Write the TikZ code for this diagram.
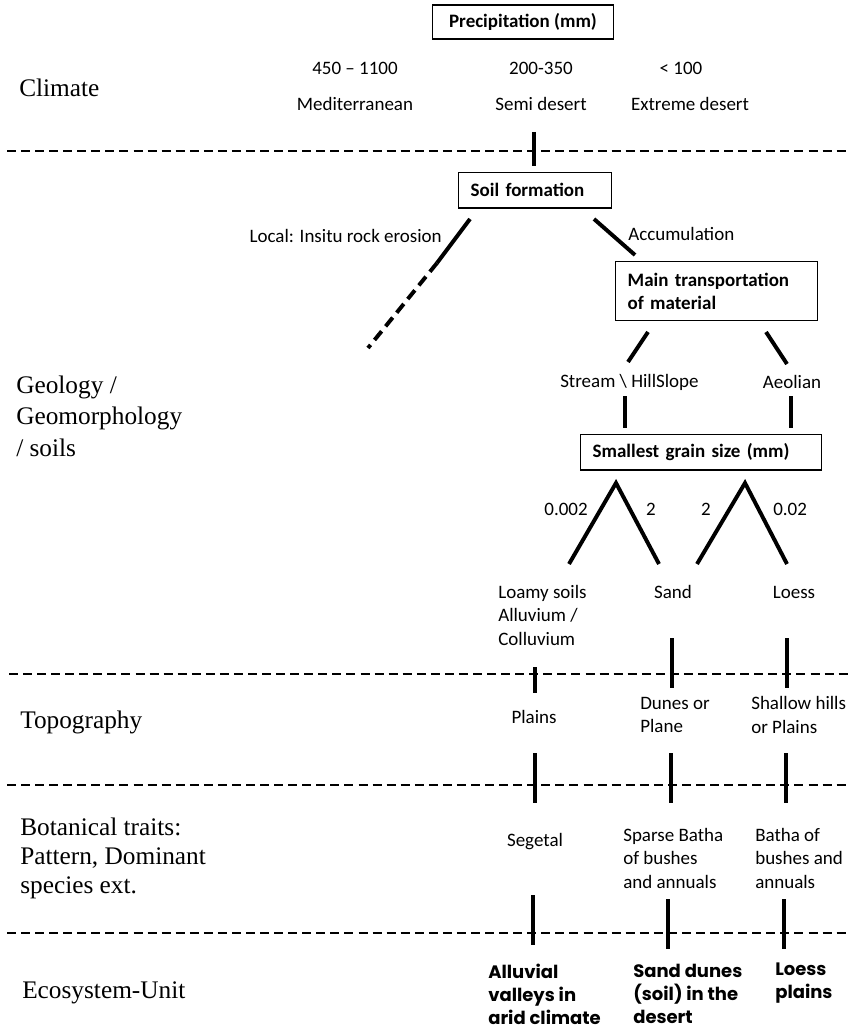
\documentclass[tikz,border=0pt]{standalone}
\usepackage{fontspec}
\setmainfont{Carlito}
\newfontfamily\rowfont{Liberation Serif}
\newfontfamily\unitfont{Poppins}
\newcommand\diagsize{\fontsize{13.5}{16.7}\selectfont}
\tikzset{
  rowlabel/.style = {anchor=west, align=left, inner sep=0pt,
                     font=\rowfont\fontsize{18}{22}\selectfont},
  txt/.style      = {inner sep=0pt, align=left, font=\diagsize},
  unit/.style     = {inner sep=0pt, align=left, anchor=west,
                     font=\unitfont\fontsize{12.8}{16.4}\selectfont\bfseries},
  box/.style      = {draw, line width=1pt, anchor=north west, align=left,
                     inner xsep=8.5pt, inner ysep=0pt, minimum height=25pt,
                     font=\diagsize\bfseries},
  link/.style     = {line width=2.8pt},
  sep/.style      = {line width=2.1pt, dash pattern=on 6.4pt off 3.6pt}
}

\begin{document}
\begin{tikzpicture}[x=0.025cm, y=-0.025cm]
\useasboundingbox (0,0) rectangle (850,1030);

% row labels
\node[rowlabel] (climate) at (19,88) {Climate};
\node[rowlabel, font=\rowfont\fontsize{18}{22.4}\selectfont] (geology) at (16,416)
  {Geology /\\Geomorphology\\/ soils};
\node[rowlabel] (topo) at (20,722) {Topography};
\node[rowlabel, font=\rowfont\fontsize{18}{20.6}\selectfont] (botany) at (20,858)
  {Botanical traits:\\Pattern, Dominant\\species ext.};
\node[rowlabel] (ecounit) at (22,993) {Ecosystem-Unit};

% separators
\coordinate (s1l) at (7,151);  \coordinate (s1r) at (850,151);
\coordinate (s2l) at (9,674);  \coordinate (s2r) at (850,674);
\coordinate (s3l) at (7,785);  \coordinate (s3r) at (850,785);
\coordinate (s4l) at (7,933);  \coordinate (s4r) at (850,933);
\draw[sep] (s1l) -- (s1r);
\draw[sep] (s2l) -- (s2r);
\draw[sep] (s3l) -- (s3r);
\draw[sep] (s4l) -- (s4r);

% climate
\node[draw, line width=1pt, minimum width=129pt, minimum height=24.2pt, inner sep=0pt,
      font=\diagsize\bfseries] (precip) at (523,22) {Precipitation (mm)};
\node[txt] (med-mm)  at (355,68)  {450 – 1100};
\node[txt] (semi-mm) at (541,68)  {200-350};
\node[txt] (ext-mm)  at (681,68)  {\textless{} 100};
\node[txt] (med)     at (355,104) {Mediterranean};
\node[txt] (semi)    at (541,104) {Semi desert};
\node[txt] (ext)     at (690,104) {Extreme desert};

% soil formation
\coordinate (t1a) at (534,132); \coordinate (t1b) at (534,166);
\draw[link] (t1a) -- (t1b);
\node[box, text width=91.5pt] (soil) at (458,172) {Soil formation};
\node[txt, anchor=east] (local) at (442,236) {Local: Insitu rock erosion};
\node[txt, anchor=west] (accum) at (628,234) {Accumulation};
\coordinate (la) at (470,219); \coordinate (lb) at (437,263); \coordinate (lc) at (368,348);
\draw[link] (la) -- (lb);
\draw[link, dash pattern=on 8pt off 4.5pt] (lb) -- (lc);
\coordinate (aa) at (594,219); \coordinate (ab) at (635,255);
\draw[link] (aa) -- (ab);

% transportation
\node[box, text width=126.6pt, minimum height=42pt] (transport) at (615,261)
  {Main transportation\\of material};
\coordinate (ta) at (648,332); \coordinate (tb) at (628,362);
\coordinate (tc) at (766,332); \coordinate (td) at (787,364);
\draw[link] (ta) -- (tb);
\draw[link] (tc) -- (td);
\node[txt, anchor=east] (stream) at (699,382) {Stream \textbackslash{} HillSlope};
\node[txt] (aeolian) at (792,382) {Aeolian};
\coordinate (sa) at (625,396); \coordinate (sb) at (625,428);
\coordinate (ea) at (791,396); \coordinate (eb) at (791,428);
\draw[link] (sa) -- (sb);
\draw[link] (ea) -- (eb);

% grain size
\node[box, text width=154.4pt] (grain) at (580,434) {Smallest grain size (mm)};
\coordinate (v1) at (616,483); \coordinate (v1l) at (569,564); \coordinate (v1r) at (659,564);
\coordinate (v2) at (745,483); \coordinate (v2l) at (697,564); \coordinate (v2r) at (787,564);
\draw[link] (v1l) -- (v1) -- (v1r);
\draw[link] (v2l) -- (v2) -- (v2r);
\node[txt, anchor=east] (g-loam) at (588,509) {0.002};
\node[txt] (g-sand1) at (651,509) {2};
\node[txt] (g-sand2) at (706,509) {2};
\node[txt, anchor=west] (g-loess) at (773,509) {0.02};

% soils
\node[txt, anchor=west] (loamy) at (498,615) {Loamy soils\\Alluvium /\\Colluvium};
\node[txt] (sand)  at (673,592) {Sand};
\node[txt] (loess) at (794,592) {Loess};
\coordinate (p1a) at (535,667); \coordinate (p1b) at (535,693);
\coordinate (p2a) at (672,638); \coordinate (p2b) at (672,688);
\coordinate (p3a) at (787,638); \coordinate (p3b) at (787,688);
\draw[link] (p1a) -- (p1b);
\draw[link] (p2a) -- (p2b);
\draw[link] (p3a) -- (p3b);

% topography
\node[txt] (plains) at (534,717) {Plains};
\node[txt, anchor=west] (dunes)   at (640,715) {Dunes or\\Plane};
\node[txt, anchor=west] (shallow) at (751,715) {Shallow hills\\or Plains};
\coordinate (q1a) at (535,753); \coordinate (q1b) at (535,803);
\coordinate (q2a) at (671,753); \coordinate (q2b) at (671,803);
\coordinate (q3a) at (786,753); \coordinate (q3b) at (786,803);
\draw[link] (q1a) -- (q1b);
\draw[link] (q2a) -- (q2b);
\draw[link] (q3a) -- (q3b);

% botanical traits
\node[txt] (segetal) at (535,842) {Segetal};
\node[txt, anchor=west] (sparse) at (623,858) {Sparse Batha\\of bushes\\and annuals};
\node[txt, anchor=west] (batha)  at (755,858) {Batha of\\bushes and\\annuals};
\coordinate (r1a) at (533,895); \coordinate (r1b) at (533,945);
\coordinate (r2a) at (668,899); \coordinate (r2b) at (668,949);
\coordinate (r3a) at (784,899); \coordinate (r3b) at (784,949);
\draw[link] (r1a) -- (r1b);
\draw[link] (r2a) -- (r2b);
\draw[link] (r3a) -- (r3b);

% ecosystem units
\node[unit] (alluvial)  at (488,994) {Alluvial\\valleys in\\arid climate};
\node[unit] (sanddunes) at (633,994) {Sand dunes\\(soil) in the\\desert};
\node[unit] (loessplain) at (775,983) {Loess\\plains};
\end{tikzpicture}
\end{document}
